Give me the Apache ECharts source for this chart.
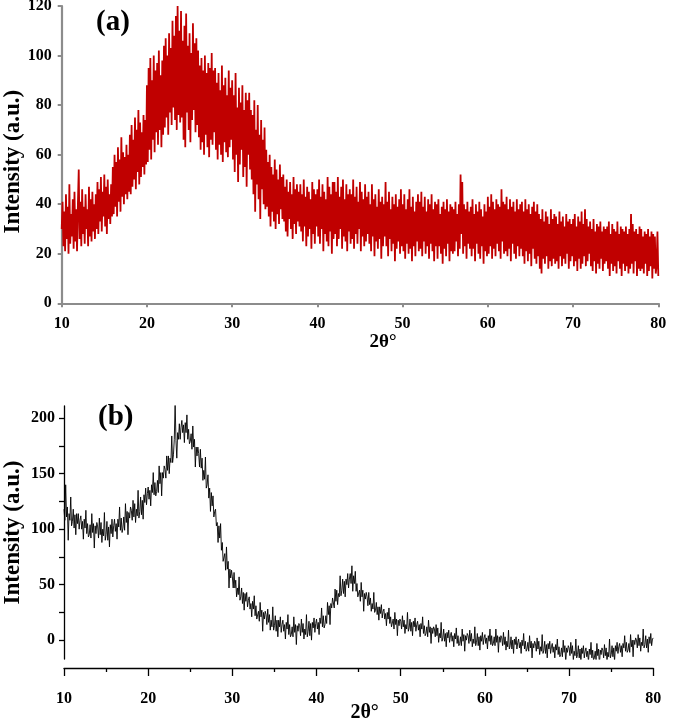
<!DOCTYPE html>
<html>
<head>
<meta charset="utf-8">
<script src="https://cdn.jsdelivr.net/npm/echarts@6/dist/echarts.min.js"></script>
<style>
html,body{margin:0;padding:0;background:#fff;}
#chart{width:675px;height:723px;}
</style>
</head>
<body>
<div id="chart"></div>
<script>
// ---------- data ----------
// Panel (a): 2θ from 10° to 80°, step 0.1°
const A_START = 10;
const A_STEP = 0.1;
const aValues = [
  30,41,23,37,21,44,26,39,20,48,24,36,27,42,22,45,25,38,21,40,
  54,26,41,23,46,28,39,24,44,30,38,23,47,27,42,25,45,29,40,26,
  44,30,49,28,46,33,51,29,45,35,52,31,47,28,50,34,44,32,48,35,
  55,36,60,39,57,35,63,41,58,37,67,43,61,40,59,44,64,42,60,45,
  68,44,72,47,66,50,75,46,70,53,78,48,73,51,69,55,76,52,74,56,
  88,57,95,62,99,58,90,66,100,61,94,69,97,64,102,70,92,63,98,68,
  104,71,107,75,100,68,109,77,103,72,114,79,108,74,116,70,120,76,110,73,
  118,75,106,66,112,63,117,77,104,70,109,65,101,74,113,78,105,69,107,72,
  102,67,96,62,99,65,94,60,100,68,93,63,97,59,95,66,101,64,94,69,
  95,62,89,58,93,64,86,60,96,57,88,65,91,61,84,59,94,63,87,66,
  90,58,84,53,93,60,79,49,87,56,81,62,88,51,78,55,85,47,82,60,
  85,54,78,50,76,44,82,37,70,48,80,42,68,34,74,46,66,40,71,38,
  62,39,57,35,60,31,55,37,52,33,58,30,54,36,50,32,56,38,51,34,
  52,33,47,29,50,27,45,34,49,30,44,26,51,32,46,28,48,33,45,31,
  48,29,44,25,50,31,43,23,47,27,45,30,42,22,49,28,46,24,44,31,
  46,27,50,24,43,30,48,21,45,28,42,25,51,23,47,29,44,20,49,26,
  49,28,45,23,51,26,43,30,47,22,50,27,42,25,48,21,44,29,46,24,
  44,26,50,22,43,28,47,24,41,30,49,21,45,27,42,23,48,25,43,28,
  45,24,40,21,48,27,42,19,44,25,39,22,46,26,41,18,43,23,40,27,
  49,23,41,19,45,26,38,21,43,24,40,17,44,22,39,25,42,20,46,23,
  40,21,44,18,38,24,42,20,46,22,39,17,43,23,37,19,41,25,44,21,
  41,22,45,19,39,25,43,20,37,23,42,18,40,24,44,21,38,17,41,23,
  40,18,42,23,36,20,39,16,41,22,38,19,42,24,37,17,40,21,39,20,
  38,21,41,25,36,19,40,22,52,28,49,20,40,23,38,18,41,24,37,22,
  39,19,42,22,36,17,40,24,37,20,41,18,38,23,35,16,40,21,37,19,
  43,20,39,23,44,18,41,22,38,19,42,24,40,21,39,18,46,25,41,20,
  40,21,43,19,38,22,42,17,39,24,41,20,37,18,42,23,38,19,40,22,
  41,19,37,16,42,21,38,17,40,20,36,15,39,22,41,18,37,16,40,19,
  36,14,34,12,38,18,33,16,37,19,35,14,32,17,38,15,34,18,36,16,
  35,17,32,14,37,19,33,15,35,18,31,16,36,20,33,14,34,17,32,19,
  34,15,36,17,31,13,35,18,33,14,37,16,32,19,38,15,34,17,31,20,
  33,15,30,13,34,17,29,12,32,16,31,14,33,18,29,13,31,16,30,17,
  31,14,33,11,28,16,32,13,30,15,29,12,33,17,28,14,31,11,30,16,
  29,13,31,15,28,12,30,14,36,16,32,12,29,17,30,11,28,14,31,13,
  30,14,27,12,29,16,28,11,30,13,27,15,29,10,28,14,27,12,15,29,
  11
];

// Panel (b): 2θ from 10° to 80°, step 0.1°
const B_START = 10;
const B_STEP = 0.1;
const bValues = [
  118,108,140,111,120,90,114,108,129,103,
  107,118,101,113,95,114,105,114,100,108,
  112,100,107,91,109,101,117,96,105,93,
  95,104,92,114,97,105,83,103,96,106,
  102,92,110,95,106,88,100,94,115,90,
  95,107,90,102,84,104,96,109,93,103,
  109,98,105,91,109,102,120,99,110,97,
  101,111,99,123,106,116,95,115,110,120,
  117,108,126,111,123,106,118,112,135,110,
  116,129,113,126,109,131,124,137,122,132,
  138,127,135,121,140,133,151,131,142,130,
  134,144,133,157,141,151,130,151,146,157,
  154,146,166,153,166,150,164,160,184,160,
  167,181,214,180,164,187,181,195,181,192,
  198,187,194,178,196,187,203,181,190,177,
  179,186,172,193,174,181,156,174,166,174,
  168,156,172,155,164,144,153,145,165,137,
  140,149,128,137,116,133,121,130,111,116,
  118,103,106,88,103,92,105,81,88,71,
  71,78,63,84,64,71,47,64,56,63,
  57,47,61,47,54,39,47,41,57,36,
  39,47,33,43,27,42,35,43,30,36,
  39,28,33,21,35,28,40,22,31,19,
  20,26,17,34,21,27,8,25,19,26,
  23,14,28,16,23,9,18,12,30,9,
  13,22,8,18,3,18,12,21,7,14,
  18,8,14,1,16,10,23,5,14,3,
  5,12,3,21,7,14,-4,13,8,15,
  13,4,19,7,15,1,10,5,23,3,
  8,17,4,15,0,16,11,20,7,15,
  19,10,16,5,20,15,29,12,22,11,
  14,22,15,34,23,31,14,33,29,38,
  37,29,46,35,45,32,42,39,58,40,
  45,55,42,53,39,55,50,60,47,55,
  60,51,67,44,58,51,62,44,51,39,
  39,45,35,52,39,45,26,42,37,43,
  39,31,43,32,38,26,33,28,43,25,
  27,34,23,30,18,30,24,32,20,26,
  28,19,24,13,25,19,29,15,21,12,
  13,19,10,25,14,19,4,18,13,19,
  17,10,22,12,18,6,14,10,25,8,
  11,19,8,16,4,17,12,20,8,14,
  17,9,14,3,15,10,21,6,13,4,
  6,12,3,18,7,12,-3,11,6,12,
  10,3,14,4,11,-2,6,2,16,-1,
  2,10,-1,6,-6,7,2,9,-2,4,
  7,-1,4,-6,6,1,11,-3,4,-5,
  -3,3,-5,10,-1,5,-10,4,0,6,
  4,-3,9,-1,6,-6,1,-3,12,-5,
  -2,6,-5,3,-9,4,-1,7,-4,2,
  5,-3,2,-8,4,-1,10,-4,4,-5,
  -3,3,-5,10,-2,4,-11,3,-2,4,
  2,-5,7,-4,3,-9,-1,-6,9,-8,
  -5,3,-8,0,-12,1,-4,3,-8,-2,
  1,-7,-2,-12,0,-5,6,-8,-1,-10,
  -8,-2,-10,4,-7,-1,-16,-3,-7,-1,
  -3,-10,2,-8,-1,-13,-6,-10,5,-12,
  -9,-1,-12,-4,-16,-3,-8,-1,-12,-6,
  -3,-11,-6,-16,-4,-9,1,-13,-6,-15,
  -13,-7,-15,0,-11,-5,-20,-7,-11,-5,
  -7,-14,-2,-12,-5,-18,-10,-14,1,-16,
  -13,-5,-16,-8,-20,-7,-12,-5,-16,-10,
  -7,-15,-10,-20,-8,-13,-2,-16,-9,-18,
  -16,-10,-18,-3,-14,-8,-23,-9,-13,-7,
  -9,-16,-4,-14,-7,-19,-11,-15,1,-16,
  -13,-5,-15,-7,-19,-5,-10,-2,-12,-6,
  -3,-11,-5,-15,-3,-7,4,-10,-2,-11,
  -9,-3,-11,5,-6,0,-15,0,-4,2,
  0,-7,5,-5,2,-10,-2,-5,10,-7,
  -4,4,-7,1,-11,3,-3,6,-5,1,
  2
];

// axis ticks / labels
const aYTicks = [0, 20, 40, 60, 80, 100, 120];
const xTicks = [10, 20, 30, 40, 50, 60, 70, 80];
const bYLabels = [0, 50, 100, 150, 200];
const bYTicks = [0, 25, 50, 75, 100, 125, 150, 175, 200];

const titleA = '(a)';
const titleB = '(b)';
const yName = 'Intensity (a.u.)';
const xName = '2θ°';

// ---------- build ----------
const aData = aValues.map((v, i) => [+(A_START + i * A_STEP).toFixed(2), v]);
const bData = bValues.map((v, i) => [+(B_START + i * B_STEP).toFixed(2), v]);

const FONT = "'Liberation Serif', 'Times New Roman', serif";
const grayAxis = '#8c8c8c';

const chart = echarts.init(document.getElementById('chart'), null, {renderer: 'canvas'});
chart.setOption({
  animation: false,
  backgroundColor: '#ffffff',
  title: [
    {text: titleA, left: 91, top: 3, textStyle: {fontFamily: FONT, fontWeight: 'bold', fontSize: 29, color: '#000'}},
    {text: titleB, left: 93, top: 398, textStyle: {fontFamily: FONT, fontWeight: 'bold', fontSize: 29, color: '#000'}}
  ],
  grid: [
    {left: 61.7, right: 16.7, top: 6, height: 297.3, containLabel: false, outerBoundsMode: 'none'},
    {left: 64, right: 21.7, top: 406, height: 253, containLabel: false, outerBoundsMode: 'none'}
  ],
  xAxis: [
    {
      gridIndex: 0, type: 'value', min: xTicks[0], max: xTicks[xTicks.length - 1], interval: 10,
      name: xName, nameLocation: 'middle', nameGap: 29, nameMoveOverlap: false,
      nameTextStyle: {fontFamily: FONT, fontWeight: 'bold', fontSize: 19, color: '#000', padding: [0, 0, 0, 46]},
      axisLine: {show: true, onZero: false, lineStyle: {color: grayAxis, width: 2.2}},
      axisTick: {show: true, length: 4, lineStyle: {color: grayAxis, width: 2}},
      axisLabel: {fontFamily: FONT, fontWeight: 'bold', fontSize: 16, color: '#000', margin: 13},
      splitLine: {show: false}
    },
    {
      gridIndex: 1, type: 'value', min: xTicks[0], max: xTicks[xTicks.length - 1], interval: 10,
      offset: 9,
      name: xName, nameLocation: 'middle', nameGap: 35, nameMoveOverlap: false,
      nameTextStyle: {fontFamily: FONT, fontWeight: 'bold', fontSize: 20, color: '#000', padding: [0, 0, 0, 12]},
      axisLine: {show: true, onZero: false, lineStyle: {color: '#000', width: 1.3}},
      axisTick: {show: true, length: 8, lineStyle: {color: '#000', width: 1.3}},
      minorTick: {show: true, splitNumber: 2, length: 4, lineStyle: {color: '#000', width: 1.3}},
      axisLabel: {fontFamily: FONT, fontWeight: 'bold', fontSize: 16, color: '#000', margin: 23},
      splitLine: {show: false}
    }
  ],
  yAxis: [
    {
      gridIndex: 0, type: 'value', min: aYTicks[0], max: aYTicks[aYTicks.length - 1], interval: 20,
      name: yName, nameLocation: 'middle', nameGap: 37, nameMoveOverlap: false,
      nameTextStyle: {fontFamily: FONT, fontWeight: 'bold', fontSize: 23, color: '#000', padding: [0, 14, 0, 0]},
      axisLine: {show: true, lineStyle: {color: grayAxis, width: 2.2}},
      axisTick: {show: true, length: 4, lineStyle: {color: grayAxis, width: 2}},
      axisLabel: {fontFamily: FONT, fontWeight: 'bold', fontSize: 16, color: '#000', margin: 10},
      splitLine: {show: false}
    },
    {
      gridIndex: 1, type: 'value', min: -17, max: 211,
      name: yName, nameLocation: 'middle', nameGap: 39, nameMoveOverlap: false,
      nameTextStyle: {fontFamily: FONT, fontWeight: 'bold', fontSize: 23, color: '#000'},
      axisLine: {show: true, lineStyle: {color: '#000', width: 1.3}},
      axisTick: {show: true, length: 5, customValues: bYTicks, lineStyle: {color: '#000', width: 1.3}},
      axisLabel: {fontFamily: FONT, fontWeight: 'bold', fontSize: 16, color: '#000', margin: 9, customValues: bYLabels},
      splitLine: {show: false}
    }
  ],
  series: [
    {
      type: 'line', xAxisIndex: 0, yAxisIndex: 0, data: aData,
      showSymbol: false, symbol: 'none',
      lineStyle: {color: '#c00000', width: 1.8}
    },
    {
      type: 'line', xAxisIndex: 1, yAxisIndex: 1, data: bData,
      showSymbol: false, symbol: 'none',
      lineStyle: {color: '#000000', width: 0.9}
    }
  ]
});
</script>
</body>
</html>
